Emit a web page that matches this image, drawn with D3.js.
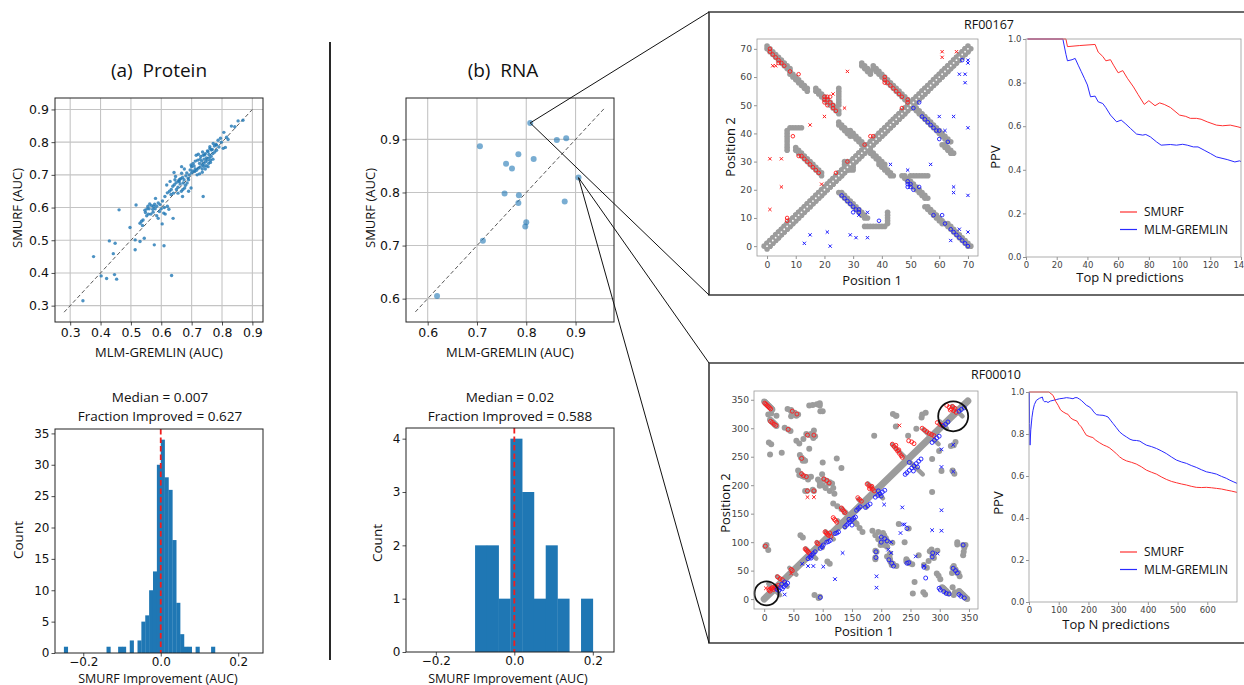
<!DOCTYPE html>
<html>
<head>
<meta charset="utf-8">
<title>SMURF vs MLM-GREMLIN</title>
<script src="https://cdnjs.cloudflare.com/ajax/libs/d3/7.8.5/d3.min.js"></script>
<style>
  body { margin: 0; background: #fff; }
  svg { display: block; }
</style>
</head>
<body>
<svg id="fig" width="1244" height="685"></svg>
<script>
// ---------- AUC scatter data: [MLM-GREMLIN, SMURF] ----------
const proteinAUC = [
  [0.342,0.315],[0.377,0.450],[0.402,0.391],[0.420,0.383],[0.446,0.395],[0.453,0.381],[0.442,0.459],
  [0.429,0.498],[0.448,0.491],[0.461,0.593],[0.497,0.539],[0.514,0.501],[0.514,0.471],[0.517,0.608],
  [0.530,0.496],[0.544,0.506],[0.577,0.486],[0.609,0.483],[0.603,0.550],[0.634,0.392],[0.639,0.567],
  [0.738,0.634],[0.670,0.634],
  [0.530,0.552],[0.535,0.558],[0.540,0.562],[0.548,0.585],[0.546,0.592],[0.553,0.596],[0.556,0.604],
  [0.562,0.611],[0.568,0.606],[0.575,0.603],[0.580,0.596],[0.585,0.604],[0.590,0.614],[0.594,0.588],
  [0.600,0.596],[0.608,0.583],[0.613,0.580],[0.610,0.600],[0.596,0.609],[0.581,0.628],[0.573,0.586],
  [0.558,0.580],[0.566,0.580],[0.538,0.545],[0.585,0.575],[0.590,0.567],[0.572,0.595],[0.552,0.575],
  [0.560,0.596],[0.578,0.610],[0.604,0.620],[0.620,0.604],[0.625,0.595],
  [0.612,0.634],[0.620,0.645],[0.627,0.650],[0.633,0.655],[0.638,0.665],[0.643,0.670],[0.649,0.676],
  [0.656,0.681],[0.660,0.686],[0.664,0.688],[0.670,0.692],[0.618,0.669],[0.629,0.680],[0.640,0.644],
  [0.650,0.655],[0.655,0.644],[0.666,0.650],[0.671,0.655],[0.677,0.660],[0.647,0.695],[0.667,0.705],
  [0.642,0.707],[0.680,0.668],[0.685,0.675],[0.690,0.685],[0.675,0.685],[0.659,0.680],[0.681,0.697],
  [0.692,0.700],[0.667,0.725],[0.695,0.715],[0.700,0.706],[0.684,0.706],[0.676,0.718],[0.655,0.662],
  [0.662,0.672],[0.632,0.640],[0.645,0.685],[0.690,0.650],[0.698,0.660],[0.672,0.675],[0.688,0.690],
  [0.710,0.710],[0.716,0.714],[0.722,0.720],[0.728,0.724],[0.735,0.730],[0.740,0.735],[0.746,0.740],
  [0.752,0.745],[0.758,0.752],[0.764,0.757],[0.770,0.765],[0.776,0.770],[0.782,0.775],[0.705,0.735],
  [0.712,0.742],[0.720,0.745],[0.730,0.756],[0.738,0.760],[0.745,0.765],[0.752,0.773],[0.760,0.780],
  [0.718,0.700],[0.726,0.703],[0.735,0.708],[0.745,0.718],[0.754,0.725],[0.762,0.738],[0.770,0.748],
  [0.700,0.725],[0.708,0.727],[0.726,0.735],[0.741,0.748],[0.733,0.742],[0.749,0.752],[0.757,0.762],
  [0.768,0.778],[0.775,0.788],[0.780,0.793],[0.771,0.796],[0.760,0.786],[0.765,0.776],[0.754,0.771],
  [0.743,0.761],[0.748,0.728],[0.735,0.718],[0.712,0.718],[0.704,0.712],[0.698,0.730],[0.715,0.760],
  [0.722,0.763],[0.736,0.770],[0.728,0.748],[0.762,0.745],[0.756,0.735],[0.740,0.726],
  [0.787,0.806],[0.782,0.791],[0.804,0.781],[0.811,0.784],[0.815,0.815],[0.820,0.808],[0.806,0.830],
  [0.831,0.849],[0.842,0.847],[0.853,0.865],[0.869,0.867],[0.790,0.785],[0.798,0.800],[0.795,0.812]
];
const rnaAUC = [
  [0.808,0.931],[0.706,0.887],[0.862,0.899],[0.881,0.902],[0.784,0.872],[0.815,0.863],[0.759,0.854],
  [0.771,0.845],[0.906,0.828],[0.756,0.798],[0.785,0.795],[0.784,0.780],[0.878,0.783],[0.800,0.744],
  [0.798,0.736],[0.712,0.709],[0.619,0.605]
];
// the two RNA families that are zoomed into on the right
const rnaZoomed = [0, 8];

// ---------- improvement histograms ----------
const proteinBinLeft = [-0.25,-0.14,-0.11,-0.10,-0.08,-0.06,-0.05,-0.04,-0.03,-0.02,-0.01,
                        0.00,0.01,0.02,0.03,0.04,0.05,0.06,0.07,0.09,0.13];
const proteinBinCount = [1,1,1,1,2,2,5,6,10,13,30,34,28,26,18,8,3,1,1,1,1];
const proteinBinWidth = 0.0099;
const rnaBinLeft = [-0.10,-0.07,-0.04,-0.01,0.02,0.05,0.08,0.11,0.14,0.17];
const rnaBinCount = [2,2,1,4,3,1,2,1,0,1];
const rnaBinWidth = 0.03;

const aucTicksProtein = [0.3,0.4,0.5,0.6,0.7,0.8,0.9];
const aucTicksRna = [0.6,0.7,0.8,0.9];
const improvTicks = [-0.2,0,0.2];
const countTicksProtein = [0,5,10,15,20,25,30,35];
const countTicksRna = [0,1,2,3,4];

// ---------- RF00167 contact map ----------
const rf167Len = 71;
// helices [i, j, length] -> pairs (i+k, j-k)
const rf167Stems = [[0,70,9],[8,61,7],[17,55,9],[10,34,10],[25,43,5],[29,40,6],[33,64,4],[37,63,13]];
// irregular contact patches [i0, i1, j0, j1]
const rf167Blobs = [[25,25,50,56],[7,7,34,41],[8,12,42,42],[27,28,29,30]];
const rf167SmurfHit = [[1,70],[1,69],[2,68],[3,67],[4,66],[4,65],[5,65],[6,64],[8,62],[11,61],
  [20,53],[21,53],[22,53],[20,52],[21,52],[22,51],[20,51],[21,50],[23,50],[23,49],[24,48],
  [9,39],[11,32],[12,32],[13,31],[14,30],[15,29],[16,28],[17,27],[18,26],
  [28,30],[24,26],[34,36],[36,39],[37,39],[7,10],[7,9],
  [41,60],[41,59],[41,58],[42,58],[43,57],[44,56],[45,55],[46,54],[47,53],[49,52],[49,51],[47,49]];
const rf167SmurfMiss = [[2,64],[3,64],[1,31],[5,31],[5,21],[1,13],[15,43],[28,62],[20,46],[19,22],
  [27,49],[23,54],[61,69],[61,67],[66,69]];
const rf167GremlinHit = [[70,0],[69,1],[68,2],[67,3],[66,4],[65,5],[64,6],[62,8],[61,11],[58,11],[68,66],
  [53,51],[51,49],[54,46],[55,45],[56,44],[57,43],[58,42],[59,41],[60,41],[60,38],[63,37],
  [49,23],[49,22],[50,22],[49,21],[50,21],[51,20],[53,21],
  [26,18],[27,17],[28,16],[29,15],[30,14],[31,13],[32,13],[30,12],[32,12],[39,9]];
const rf167GremlinMiss = [[70,5],[64,2],[67,6],[70,18],[65,19],[65,21],[70,42],[65,46],[60,46],[62,41],
  [57,29],[43,29],[49,27],[69,58],[69,61],[67,61],[70,65],[70,66],[35,12],[35,3],[29,4],[31,3],
  [15,4],[21,5],[13,1],[22,0],[32,11]];

// ---------- RF00010 contact map ----------
const rf010Len = 349;
const rf010Stems = [[0,347,15],[10,315,12]];
const rf010Hairpins = [[17,10],[31,9],[49,6],[80,9],[95,5],[112,7],[132,6],[146,12],[168,7],
                       [190,13],[245,26],[285,13],[306,6],[330,9]];   // [centre, half length]
const rf010Contacts = [
  [7,324],[21,322],[12,326],[8,275],[12,272],[10,254],[30,257],[35,301],[41,298],
  [40,334],[46,330],[52,327],[58,324],[46,321],[64,248],[67,245],[70,243],[67,281],
  [72,290],[77,288],[82,287],[87,286],[77,340],[83,341],[90,342],[95,344],[100,330],
  [60,218],[65,216],[70,215],[75,214],[80,215],[70,190],[85,190],
  [102,210],[107,208],[112,205],[116,203],[95,199],[4,95],[7,86],[2,93],[62,112],[66,108],
  [118,168],[125,163],[132,158],[138,152],[220,325],[226,322],[270,324],[276,327],
  [185,120],[190,112],[195,105],[200,100],[205,95],[210,92],[195,118],[203,110],[190,73],[192,83],
  [210,75],[215,68],[220,62],[226,58],[243,66],[248,63],[253,61],[264,77],[273,60],[278,55],
  [283,84],[290,80],[296,85],[295,45],[322,55],[327,50],[332,46],[330,96],[340,95],
  [287,246],[303,225],[299,260],[319,269],[322,225],[287,188],[240,100],[247,124],[219,99],[230,132]
];
const rf010SmurfHit = [
  [1,344],[3,342],[5,340],[7,338],[9,336],[11,334],[11,312],[14,310],[17,307],[20,305],
  [41,298],[48,330],[56,325],[64,247],[74,288],[85,288],[64,220],[67,217],[72,215],[74,190],[85,190],
  [102,211],[107,208],[111,204],[2,93],
  [8,16],[10,14],[12,18],[14,20],[16,17],[18,22],[20,19],[22,21],[24,24],[23,39],[27,36],[31,34],
  [46,52],[48,50],[70,88],[72,86],[74,84],[76,82],[78,80],[90,99],[92,97],
  [104,118],[106,116],[108,114],[110,112],[112,116],[114,110],[118,143],[120,140],[122,138],[124,135],
  [132,160],[134,157],[136,154],[138,152],[160,178],[163,175],[166,172],
  [176,202],[179,199],[182,196],[185,193],[188,190],[180,194],[184,198],
  [219,272],[222,268],[225,264],[228,260],[231,256],[234,252],[236,249],[225,270],[230,262],
  [247,278],[252,276],[256,273],[270,300],[274,297],[278,294],[282,291],[286,289],[290,287],
  [296,310],[300,307],[304,305],[312,340],[316,337],[320,334],[324,331],[328,328],[318,332],[322,338],[326,335]
];
const rf010SmurfMiss = [[3,19],[8,19],[13,19],[46,45],[74,179],[85,179],[231,305]];
const rf010GremlinHit = [
  [22,17],[25,15],[28,20],[31,18],[34,22],[37,25],[40,28],[30,26],[35,30],
  [75,71],[78,74],[81,77],[84,80],[87,83],[80,72],[96,89],[99,92],[101,95],[107,100],[110,101],[113,103],
  [121,115],[124,116],[127,118],[138,127],[141,130],[144,133],[147,136],[150,139],[153,142],[156,144],
  [145,140],[150,130],[158,156],[161,159],[164,162],[173,161],[177,164],[181,167],
  [190,179],[194,182],[198,185],[202,188],[206,191],[195,190],[200,181],
  [241,219],[244,222],[248,226],[252,230],[256,234],[260,238],[264,242],[268,246],[248,240],[255,225],[262,232],
  [287,275],[291,279],[295,283],[299,286],[306,304],[310,307],[314,311],[333,330],[337,333],[342,336],
  [96,3],[191,73],[191,83],[200,100],[200,109],[206,106],[210,102],[213,69],[218,63],[221,58],[244,63],
  [247,64],[273,56],[287,74],[288,81],[299,19],[301,16],[307,13],[311,10],[316,9],[333,8],[336,5],[342,2],
  [323,54],[327,50],[330,46],[340,95],[244,124],[276,37]
];
const rf010GremlinMiss = [[35,8],[101,57],[75,58],[84,58],[65,62],[121,35],[134,81],[192,40],[192,20],
  [205,166],[212,87],[217,100],[217,81],[233,116],[237,131],[240,131],[236,161],[259,75],[273,58],
  [287,121],[296,80],[303,263],[303,232],[303,156],[303,120],[323,271],[323,224]];
const rf010Rings = [[4,10,12],[323,321,15]];   // highlighted regions [i, j, radius px]

// ---------- PPV curves: [top N, PPV] ----------
const ppv167Smurf = [[1,1],[26,1],[27,0.965],[35,0.970],[45,0.975],[47,0.94],[50,0.92],[52,0.90],[55,0.905],
  [57,0.88],[60,0.845],[63,0.855],[66,0.82],[70,0.78],[73,0.745],[77,0.70],[80,0.717],[84,0.694],[87,0.707],
  [90,0.70],[94,0.686],[100,0.651],[104,0.645],[107,0.636],[111,0.636],[114,0.632],[118,0.62],[124,0.605],
  [128,0.602],[133,0.605],[138,0.597],[140,0.593]];
const ppv167Gremlin = [[1,1],[24,1],[26,0.93],[27,0.90],[30,0.905],[32,0.911],[34,0.88],[36,0.85],[38,0.82],
  [40,0.789],[42,0.735],[45,0.738],[47,0.712],[50,0.704],[52,0.685],[55,0.651],[59,0.62],[62,0.628],[65,0.61],
  [68,0.59],[72,0.564],[76,0.559],[78,0.562],[81,0.551],[85,0.528],[88,0.513],[94,0.516],[98,0.513],
  [102,0.517],[105,0.513],[109,0.505],[112,0.505],[116,0.49],[120,0.475],[124,0.459],[131,0.447],
  [136,0.436],[139,0.441],[140,0.438]];
const ppv010Smurf = [[1,1],[67,1],[81,0.984],[90,0.955],[98,0.937],[106,0.915],[115,0.905],[125,0.897],
  [131,0.894],[140,0.877],[148,0.869],[162,0.861],[168,0.846],[176,0.834],[185,0.812],[193,0.794],
  [205,0.787],[215,0.783],[225,0.77],[238,0.758],[250,0.748],[260,0.742],[270,0.735],[283,0.72],
  [295,0.705],[305,0.691],[316,0.68],[328,0.672],[345,0.665],[361,0.657],[378,0.644],[395,0.628],
  [412,0.618],[429,0.609],[445,0.596],[462,0.584],[480,0.574],[496,0.568],[513,0.562],[530,0.557],
  [546,0.551],[563,0.546],[580,0.545],[597,0.546],[614,0.544],[631,0.541],[648,0.538],[664,0.533],
  [682,0.528],[700,0.522]];
const ppv010Gremlin = [[1,1],[2,0.85],[3.4,0.747],[6,0.82],[10,0.88],[13.5,0.913],[18,0.94],[24.7,0.96],
  [35,0.97],[45,0.976],[48,0.96],[52.7,0.953],[58,0.955],[64,0.95],[72,0.957],[81,0.96],[92,0.964],
  [103,0.968],[115,0.97],[126,0.973],[137,0.971],[148,0.968],[155,0.973],[162,0.973],[170,0.966],
  [176,0.96],[185,0.948],[193,0.937],[202,0.93],[210,0.921],[218,0.905],[227,0.892],[238,0.89],
  [249,0.889],[257,0.886],[266,0.881],[274,0.866],[283,0.85],[294,0.83],[305,0.81],[316,0.797],
  [328,0.786],[340,0.775],[350,0.77],[362,0.769],[373,0.766],[384,0.756],[395,0.747],[412,0.74],
  [429,0.731],[445,0.72],[462,0.707],[480,0.69],[496,0.676],[513,0.667],[530,0.66],[546,0.65],
  [563,0.641],[580,0.63],[597,0.62],[614,0.615],[631,0.609],[648,0.598],[664,0.589],[676,0.58],
  [687,0.573],[700,0.565]];
const ppvTicks = [0,0.2,0.4,0.6,0.8,1.0];

// ---------- drawing ----------
const svg = d3.select("#fig");
const LABEL_FONT = "'Open Sans', 'Noto Sans', sans-serif";
const TICK_FONT = "'DejaVu Sans', sans-serif";
const BLUE = "#1f77b4";

function drawAxes(g, x, y, p) {
  const ax = g.append("g").attr("transform", `translate(0,${y.range()[0]})`)
    .call(d3.axisBottom(x).tickValues(p.xTicks).tickFormat(p.xFmt)
      .tickSizeInner(p.tick).tickSizeOuter(0).tickPadding(p.xPad != null ? p.xPad : p.pad));
  const ay = g.append("g").attr("transform", `translate(${x.range()[0]},0)`)
    .call(d3.axisLeft(y).tickValues(p.yTicks).tickFormat(p.yFmt)
      .tickSizeInner(p.tick).tickSizeOuter(0).tickPadding(p.pad));
  for (const a of [ax, ay]) {
    a.select(".domain").remove();
    a.selectAll("line").attr("stroke", p.tickColor).attr("stroke-width", 0.8);
    a.selectAll("text").attr("font-family", TICK_FONT).attr("font-size", p.font).attr("fill", p.color);
  }
  g.append("rect")
    .attr("x", x.range()[0]).attr("y", y.range()[1])
    .attr("width", x.range()[1] - x.range()[0]).attr("height", y.range()[0] - y.range()[1])
    .attr("fill", "none").attr("stroke", p.frame).attr("stroke-width", p.frameW || 1);
}

function label(text, x, y, size, opts = {}) {
  const t = svg.append("text")
    .attr("x", x).attr("y", y)
    .attr("text-anchor", opts.anchor || "middle")
    .attr("font-family", LABEL_FONT)
    .attr("font-size", size)
    .attr("fill", opts.color || "#111")
    .text(text);
  if (opts.rotate) t.attr("transform", `rotate(-90,${x},${y})`);
  return t;
}

function scatterPanel(data, box, dom, ticks, r, opacity, diag) {
  const g = svg.append("g");
  const x = d3.scaleLinear().domain(dom).range([box.l, box.r]);
  const y = d3.scaleLinear().domain(dom).range([box.b, box.t]);
  g.selectAll(".gx").data(ticks).join("line")
    .attr("x1", d => x(d)).attr("x2", d => x(d)).attr("y1", box.t).attr("y2", box.b)
    .attr("stroke", "#c4c4c4").attr("stroke-width", 1.1);
  g.selectAll(".gy").data(ticks).join("line")
    .attr("y1", d => y(d)).attr("y2", d => y(d)).attr("x1", box.l).attr("x2", box.r)
    .attr("stroke", "#c4c4c4").attr("stroke-width", 1.1);
  g.append("line")
    .attr("x1", x(diag[0])).attr("y1", y(diag[0])).attr("x2", x(diag[1])).attr("y2", y(diag[1]))
    .attr("stroke", "#444").attr("stroke-width", 0.9).attr("stroke-dasharray", "4,2.5");
  g.selectAll(".pt").data(data).join("circle")
    .attr("cx", d => x(d[0])).attr("cy", d => y(d[1])).attr("r", r)
    .attr("fill", BLUE).attr("fill-opacity", opacity);
  drawAxes(g, x, y, { xTicks: ticks, yTicks: ticks, xFmt: d3.format(".1f"), yFmt: d3.format(".1f"),
    tick: 3.5, pad: 2.5, font: 12.5, color: "#111", tickColor: "#222", frame: "#222" });
  return { x, y };
}

function histPanel(left, counts, width, box, xDom, yDom, yTicks) {
  const g = svg.append("g");
  const x = d3.scaleLinear().domain(xDom).range([box.l, box.r]);
  const y = d3.scaleLinear().domain(yDom).range([box.b, box.t]);
  g.selectAll(".bar").data(d3.zip(left, counts).filter(d => d[1] > 0)).join("rect")
    .attr("x", d => x(d[0])).attr("width", d => x(d[0] + width) - x(d[0]) + 0.3)
    .attr("y", d => y(d[1])).attr("height", d => y(0) - y(d[1]))
    .attr("fill", BLUE);
  g.append("line")
    .attr("x1", x(0)).attr("x2", x(0)).attr("y1", box.t).attr("y2", box.b)
    .attr("stroke", "#f01e1e").attr("stroke-width", 1.8).attr("stroke-dasharray", "5.5,3");
  drawAxes(g, x, y, { xTicks: improvTicks, yTicks, xFmt: d3.format(".1f"), yFmt: d3.format("d"),
    tick: 3.5, pad: 2, xPad: 1, font: 12, color: "#111", tickColor: "#222", frame: "#222" });
}

function xMark(sel, s) {
  return sel.attr("d", `M${-s},${-s}L${s},${s}M${-s},${s}L${s},${-s}`);
}

function contactPanel(o) {
  const g = svg.append("g");
  const x = d3.scaleLinear().domain(o.dom).range([o.box.l, o.box.r]);
  const y = d3.scaleLinear().domain(o.dom).range([o.box.b, o.box.t]);
  const clipId = "clip" + o.id;
  g.append("clipPath").attr("id", clipId).append("rect")
    .attr("x", o.box.l).attr("y", o.box.t).attr("width", o.box.r - o.box.l).attr("height", o.box.b - o.box.t);
  const p = g.append("g").attr("clip-path", `url(#${clipId})`);
  const GRAY = "#9c9c9c";

  // true contacts, drawn symmetric
  const cells = [];
  (o.stems || []).forEach(([i, j, n]) => d3.range(n).forEach(k =>
    o.stemBand.forEach(dd => cells.push([i + k, j - k + dd]))));
  (o.blobs || []).forEach(([i0, i1, j0, j1]) => d3.range(i0, i1 + 1).forEach(i =>
    d3.range(j0, j1 + 1).forEach(j => cells.push([i, j]))));
  (o.contacts || []).forEach(c => cells.push(c));
  if (o.diagBand) d3.range(o.len).forEach(i => o.diagBand.forEach(dd => cells.push([i, i + dd])));
  const sym = cells.concat(cells.map(([a, b]) => [b, a]));

  if (o.diagWidth) {
    p.append("line").attr("x1", x(0)).attr("y1", y(0)).attr("x2", x(o.len - 1)).attr("y2", y(o.len - 1))
      .attr("stroke", GRAY).attr("stroke-width", o.diagWidth).attr("stroke-linecap", "round");
  }
  (o.hairpins || []).forEach(([c, h]) => {
    p.append("line").attr("x1", x(c - h)).attr("y1", y(c + h)).attr("x2", x(c + h)).attr("y2", y(c - h))
      .attr("stroke", GRAY).attr("stroke-width", o.hairpinWidth).attr("stroke-linecap", "round");
  });
  p.selectAll(".gc").data(sym).join("circle")
    .attr("cx", d => x(d[0])).attr("cy", d => y(d[1])).attr("r", o.grayR).attr("fill", GRAY);
  if (o.whiteDiag) {
    p.selectAll(".wd").data(d3.range(o.len)).join("circle")
      .attr("cx", d => x(d)).attr("cy", d => y(d)).attr("r", 0.9).attr("fill", "#fff");
  }
  // predictions: circle = true contact, x = false contact
  const sets = [[o.smurfHit, o.smurfMiss, "#ff1a1a"], [o.gremlinHit, o.gremlinMiss, "#1a1aff"]];
  for (const [hit, miss, col] of sets) {
    p.append("g").selectAll("circle").data(hit).join("circle")
      .attr("cx", d => x(d[0])).attr("cy", d => y(d[1])).attr("r", o.mr)
      .attr("fill", "none").attr("stroke", col).attr("stroke-width", 0.9);
    p.append("g").selectAll("path").data(miss).join("path")
      .attr("transform", d => `translate(${x(d[0])},${y(d[1])})`)
      .call(xMark, o.mr * 0.9)
      .attr("stroke", col).attr("stroke-width", 1);
  }
  (o.rings || []).forEach(([i, j, r]) => {
    g.append("circle").attr("cx", x(i)).attr("cy", y(j)).attr("r", r)
      .attr("fill", "none").attr("stroke", "#111").attr("stroke-width", 1.8);
  });
  drawAxes(g, x, y, { xTicks: o.ticks, yTicks: o.ticks, xFmt: d3.format("d"), yFmt: d3.format("d"),
    tick: 3, pad: 2, font: 9.2, color: "#444", tickColor: "#777", frame: "#999", frameW: 0.8 });
}

function ppvPanel(o) {
  const g = svg.append("g");
  const x = d3.scaleLinear().domain(o.xDom).range([o.box.l, o.box.r]);
  const y = d3.scaleLinear().domain([0, 1]).range([o.box.b, o.box.t]);
  const line = d3.line().x(d => x(d[0])).y(d => y(d[1]));
  g.append("path").datum(o.gremlin).attr("d", line).attr("fill", "none")
    .attr("stroke", "#2a2aff").attr("stroke-width", 1);
  g.append("path").datum(o.smurf).attr("d", line).attr("fill", "none")
    .attr("stroke", "#ff3030").attr("stroke-width", 1);
  drawAxes(g, x, y, { xTicks: o.xTicks, yTicks: ppvTicks, xFmt: d3.format("d"), yFmt: d3.format(".1f"),
    tick: 3, pad: 1.5, font: 8.5, color: "#444", tickColor: "#777", frame: "#999", frameW: 0.8 });
  const lg = [["SMURF", "#ff3030"], ["MLM-GREMLIN", "#2a2aff"]];
  lg.forEach(([name, col], k) => {
    const ly = o.legendY + k * 17.5;
    g.append("line").attr("x1", 1120).attr("x2", 1137).attr("y1", ly).attr("y2", ly)
      .attr("stroke", col).attr("stroke-width", 1.2);
    g.append("text").attr("x", 1144).attr("y", ly + 4.3).attr("font-family", LABEL_FONT)
      .attr("font-size", 12).attr("fill", "#111").text(name);
  });
}

// ---------- left column: protein ----------
label("(a)\u00a0\u00a0Protein", 159, 77, 19);
const protBox = { l: 55, r: 263, t: 98, b: 322 };
scatterPanel(proteinAUC, protBox, [0.25, 0.935], aucTicksProtein, 1.7, 0.8, [0.28, 0.9]);
label("MLM-GREMLIN (AUC)", 159, 357, 13);
label("SMURF (AUC)", 22, 208, 13, { rotate: true });

label("Median = 0.007", 160, 402, 13.5);
label("Fraction Improved = 0.627", 160, 421, 13.5);
histPanel(proteinBinLeft, proteinBinCount, proteinBinWidth, { l: 55, r: 263, t: 429, b: 653 },
  [-0.273, 0.264], [0, 35.7], countTicksProtein);
label("SMURF Improvement (AUC)", 158, 682.5, 12.5);
label("Count", 23, 540, 13.5, { rotate: true });

// separator
svg.append("line").attr("x1", 330).attr("x2", 330).attr("y1", 42).attr("y2", 660)
  .attr("stroke", "#111").attr("stroke-width", 1.8);

// ---------- middle column: RNA ----------
label("(b)\u00a0\u00a0RNA", 503, 77, 19);
const rnaBox = { l: 406, r: 614, t: 98, b: 322 };
const rnaScales = scatterPanel(rnaAUC, rnaBox, [0.556, 0.978], aucTicksRna, 3, 0.6, [0.575, 0.96]);
label("MLM-GREMLIN (AUC)", 510, 357, 13);
label("SMURF (AUC)", 375, 208, 13, { rotate: true });

label("Median = 0.02", 510, 402, 13.5);
label("Fraction Improved = 0.588", 510, 421, 13.5);
histPanel(rnaBinLeft, rnaBinCount, rnaBinWidth, { l: 406, r: 614, t: 428, b: 652 },
  [-0.276, 0.254], [0, 4.2], countTicksRna);
label("SMURF Improvement (AUC)", 508, 682.5, 12.5);
label("Count", 382, 543, 13.5, { rotate: true });

// ---------- zoom boxes and leader lines ----------
const boxes = [{ t: 12, b: 295 }, { t: 363, b: 643 }];
boxes.forEach(bx => {
  svg.append("path").attr("d", `M1250,${bx.t}H709V${bx.b}H1250`)
    .attr("fill", "none").attr("stroke", "#3a3a3a").attr("stroke-width", 1.6);
});
rnaZoomed.forEach((idx, k) => {
  const d = rnaAUC[idx];
  const px = rnaScales.x(d[0]), py = rnaScales.y(d[1]);
  [boxes[k].t, boxes[k].b].forEach(cy => {
    svg.append("line").attr("x1", px).attr("y1", py).attr("x2", 709).attr("y2", cy)
      .attr("stroke", "#111").attr("stroke-width", 1);
  });
});

// ---------- RF00167 ----------
label("RF00167", 989, 29, 12.5);
contactPanel({
  id: "167", len: rf167Len, dom: [-3.5, 73.5], box: { l: 757, r: 978, t: 39, b: 256 },
  ticks: d3.range(0, 71, 10), stems: rf167Stems, stemBand: [0, 1], blobs: rf167Blobs,
  diagBand: [1, -1], grayR: 2.8, whiteDiag: true, mr: 1.8,
  smurfHit: rf167SmurfHit, smurfMiss: rf167SmurfMiss,
  gremlinHit: rf167GremlinHit, gremlinMiss: rf167GremlinMiss
});
label("Position 1", 872, 285, 13);
label("Position 2", 735, 147, 13, { rotate: true });
ppvPanel({ box: { l: 1026, r: 1241, t: 39, b: 257 }, xDom: [0, 140], xTicks: d3.range(0, 141, 20),
  smurf: ppv167Smurf, gremlin: ppv167Gremlin, legendY: 212 });
label("Top N predictions", 1130, 282, 13);
label("PPV", 1000, 157, 13, { rotate: true });

// ---------- RF00010 ----------
label("RF00010", 996, 379, 12.5);
contactPanel({
  id: "010", len: rf010Len, dom: [-17.4, 365.4], box: { l: 754, r: 978, t: 391, b: 609 },
  ticks: d3.range(0, 351, 50), stems: rf010Stems, stemBand: [0], contacts: rf010Contacts,
  diagWidth: 7, hairpins: rf010Hairpins, hairpinWidth: 4.5, grayR: 3, mr: 2,
  smurfHit: rf010SmurfHit, smurfMiss: rf010SmurfMiss,
  gremlinHit: rf010GremlinHit, gremlinMiss: rf010GremlinMiss, rings: rf010Rings
});
label("Position 1", 864, 636, 13);
label("Position 2", 730, 503, 13, { rotate: true });
ppvPanel({ box: { l: 1029, r: 1237, t: 392, b: 602 }, xDom: [0, 700], xTicks: d3.range(0, 601, 100),
  smurf: ppv010Smurf, gremlin: ppv010Gremlin, legendY: 552 });
label("Top N predictions", 1116, 629, 13);
label("PPV", 1003, 503, 13, { rotate: true });
</script>
</body>
</html>
